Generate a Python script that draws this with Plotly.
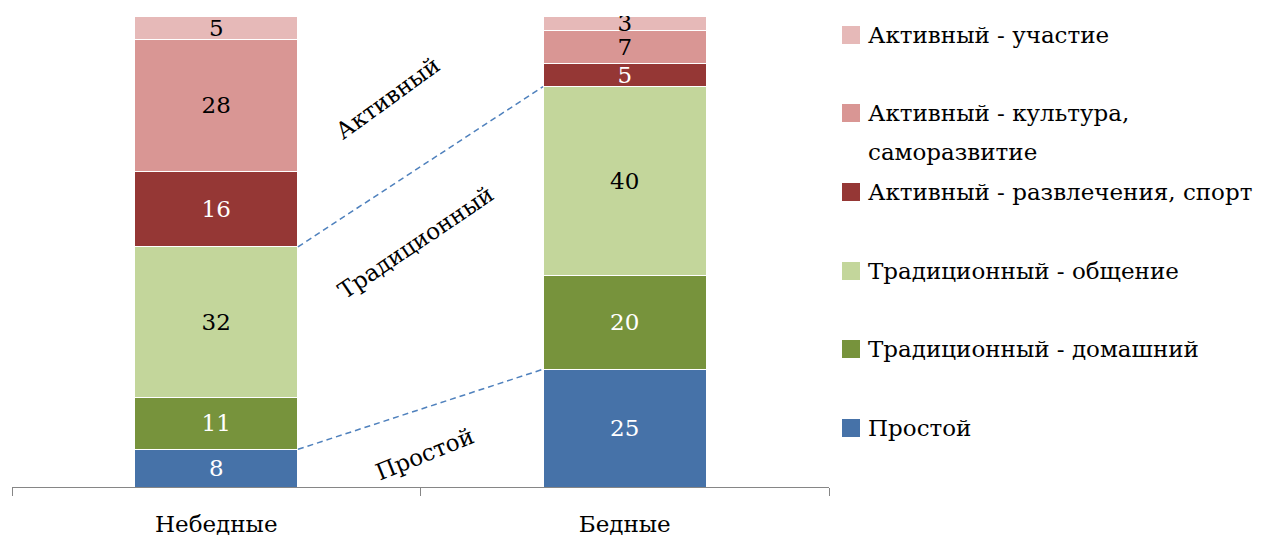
import plotly.graph_objects as go

categories = ["Небедные", "Бедные"]
series_names = [
    "Простой",
    "Традиционный - домашний",
    "Традиционный - общение",
    "Активный - развлечения, спорт",
    "Активный - культура, саморазвитие",
    "Активный - участие",
]
legend_labels = [
    "Простой",
    "Традиционный - домашний",
    "Традиционный - общение",
    "Активный - развлечения, спорт",
    "Активный - культура,<br>саморазвитие",
    "Активный - участие",
]
values = {
    "Простой": [8, 25],
    "Традиционный - домашний": [11, 20],
    "Традиционный - общение": [32, 40],
    "Активный - развлечения, спорт": [16, 5],
    "Активный - культура, саморазвитие": [28, 7],
    "Активный - участие": [5, 3],
}
colors = ["#4672A8", "#77933C", "#C3D69B", "#953735", "#D99694", "#E6B9B8"]
text_colors = ["white", "white", "black", "white", "black", "black"]
group_labels = ["Простой", "Традиционный", "Активный"]

FONT = "DejaVu Serif"
FS = 23
BAR_W = 0.4

fig = go.Figure()
for name, col, tcol in zip(series_names, colors, text_colors):
    fig.add_trace(go.Bar(
        x=categories, y=values[name], name=name,
        marker=dict(color=col, line=dict(color="white", width=1)),
        width=BAR_W,
        text=[str(v) for v in values[name]],
        textposition="inside", insidetextanchor="middle",
        constraintext="none", textangle=0,
        textfont=dict(family=FONT, size=FS, color=tcol),
        showlegend=False,
    ))

# connector lines between group tops
cum0 = 0
cum1 = 0
cums = []
for name in series_names:
    cum0 += values[name][0]
    cum1 += values[name][1]
    cums.append((cum0, cum1))
for idx in [0, 2]:
    y0, y1 = cums[idx]
    fig.add_shape(type="line", xref="x", yref="y",
                  x0=0 + BAR_W / 2, x1=1 - BAR_W / 2, y0=y0, y1=y1,
                  line=dict(color="#4F81BD", width=1.5, dash="6px,4px"))

# rotated group labels
fig.add_annotation(x=0.51, y=7, xref="x", yref="y", text=group_labels[0],
                   textangle=-22, showarrow=False,
                   font=dict(family=FONT, size=FS, color="black"))
fig.add_annotation(x=0.49, y=52, xref="x", yref="y", text=group_labels[1],
                   textangle=-34, showarrow=False,
                   font=dict(family=FONT, size=FS, color="black"))
fig.add_annotation(x=0.42, y=82.5, xref="x", yref="y", text=group_labels[2],
                   textangle=-36, showarrow=False,
                   font=dict(family=FONT, size=FS, color="black"))

# manual legend (right side)
L, R, T, B = 12, 438, 16, 53
W, H = 1267, 540
pw, ph = W - L - R, H - T - B
def px2paper(px, py):
    return (px - L) / pw, (H - B - py) / ph

LINE_GAP = 39
legend_rows = [428, 349, 271, 192, 113, 35]
for lab, col, py in zip(legend_labels, colors, legend_rows):
    x0, y0 = px2paper(842, py - 9)
    x1, y1 = px2paper(860, py + 9)
    fig.add_shape(type="rect", xref="paper", yref="paper",
                  x0=x0, x1=x1, y0=y0, y1=y1,
                  fillcolor=col, line=dict(width=0))
    for i, line in enumerate(lab.split("<br>")):
        tx, ty = px2paper(866, py + i * LINE_GAP)
        fig.add_annotation(x=tx, y=ty, xref="paper", yref="paper",
                           text=line, showarrow=False, xanchor="left",
                           yanchor="middle", align="left",
                           font=dict(family=FONT, size=FS, color="black"))

fig.update_layout(
    barmode="stack",
    width=W, height=H,
    margin=dict(l=L, r=R, t=T, b=B, autoexpand=False),
    paper_bgcolor="white", plot_bgcolor="white",
    showlegend=False,
    xaxis=dict(
        type="category", range=[-0.5, 1.5],
        automargin=False,
        showline=True, linecolor="#868686", linewidth=1,
        ticks="outside", tickson="boundaries", ticklen=8,
        tickcolor="#868686", tickwidth=1,
        ticklabelstandoff=16,
        showgrid=False, zeroline=False,
        tickfont=dict(family=FONT, size=FS, color="black"),
    ),
    yaxis=dict(range=[0, 100], visible=False, showgrid=False, zeroline=False,
               automargin=False),
)

fig.write_html("out.html", config={"displayModeBar": False},
               post_script="document.body.style.margin='0';document.body.style.overflow='hidden';")
